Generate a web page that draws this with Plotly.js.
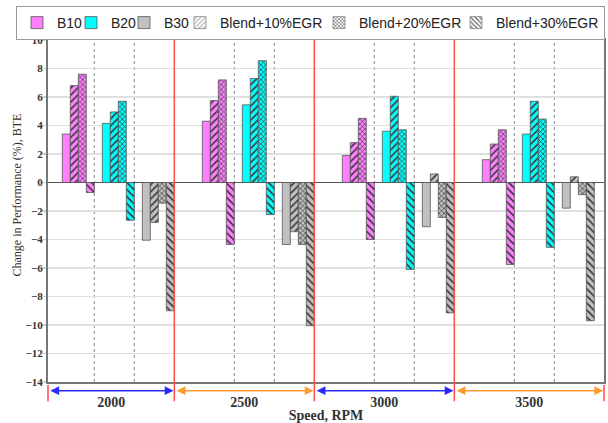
<!DOCTYPE html>
<html><head><meta charset="utf-8">
<script src="https://cdn.plot.ly/plotly-3.0.1.min.js"></script>
<style>html,body{margin:0;padding:0;background:#fff}#chart{width:608px;height:423px}</style>
</head><body><div id="chart"></div>
<script>
// ---- data ----
const speeds = ['2000', '2500', '3000', '3500'];
const fuels = ['B10', 'B20', 'B30'];
const egrLabels = ['Blend+10%EGR', 'Blend+20%EGR', 'Blend+30%EGR'];
// each array: one value per speed (2000, 2500, 3000, 3500)
const B10_blend = [3.4, 4.3, 1.9, 1.6];
const B10_egr10 = [6.8, 5.75, 2.8, 2.7];
const B10_egr20 = [7.6, 7.2, 4.5, 3.7];
const B10_egr30 = [-0.7, -4.35, -4.0, -5.75];
const B20_blend = [4.15, 5.45, 3.6, 3.4];
const B20_egr10 = [4.95, 7.3, 6.05, 5.7];
const B20_egr20 = [5.7, 8.55, 3.7, 4.45];
const B20_egr30 = [-2.65, -2.25, -6.1, -4.55];
const B30_blend = [-4.05, -4.35, -3.1, -1.8];
const B30_egr10 = [-2.8, -3.45, 0.6, 0.4];
const B30_egr20 = [-1.45, -4.35, -2.45, -0.85];
const B30_egr30 = [-9.0, -10.05, -9.15, -9.7];

// ---- styling / layout helpers ----
const fuelSeries = [
  [B10_blend, B10_egr10, B10_egr20, B10_egr30],
  [B20_blend, B20_egr10, B20_egr20, B20_egr30],
  [B30_blend, B30_egr10, B30_egr20, B30_egr30]
];
const fuelColors = ['#ff80ff', '#00ffff', '#c0c0c0'];
const patShapes = ['', '/', 'x', '\\'];
const patSizes = [5, 5, 3.5, 5];
const patSolid = [0.3, 0.3, 0.35, 0.3];
const legendW = [9, 8, 11];
const egrLegendW = [94, 92, 0];
const egrLegendFg = ['#b0b0b0', '#333', '#555'];

const GROUP = 17.5, SUB = 5;
const pos = (s, f, c) => s * GROUP + f * SUB + c;
const xmin = -2.29, xmax = 67.21;

const traces = [];
fuels.forEach((name, f) => {
  const x = [], y = [], shp = [], sz = [], sol = [];
  speeds.forEach((sp, s) => {
    fuelSeries[f].forEach((arr, c) => {
      x.push(pos(s, f, c)); y.push(arr[s]);
      shp.push(patShapes[c]); sz.push(patSizes[c]); sol.push(patSolid[c]);
    });
  });
  traces.push({
    type: 'bar', name: name, x: x, y: y, width: 1,
    legendwidth: legendW[f],
    marker: {color: fuelColors[f], line: {color: '#555', width: 0.8},
      pattern: {shape: shp, size: sz, solidity: sol, fgcolor: '#333', bgcolor: fuelColors[f], fillmode: 'replace'}},
    hoverinfo: 'skip'
  });
});
egrLabels.forEach((name, i) => {
  traces.push({
    type: 'bar', name: name, x: [null], y: [null],
    legendwidth: egrLegendW[i] || undefined,
    marker: {color: '#ffffff', line: {color: '#888', width: 0.8},
      pattern: {shape: patShapes[i + 1], size: i === 1 ? 3 : 4, solidity: 0.35, fgcolor: egrLegendFg[i], bgcolor: '#ffffff'}},
    hoverinfo: 'skip'
  });
});

// separators
const shapes = [];
const segEdges = [xmin];
speeds.forEach((sp, s) => {
  [3.5, 8.5].forEach(o => shapes.push({type: 'line', xref: 'x', yref: 'paper',
    x0: s * GROUP + o, x1: s * GROUP + o, y0: 0, y1: 1,
    line: {color: '#8a8a8a', width: 1, dash: 'dot'}, layer: 'below'}));
  if (s < speeds.length - 1) {
    const b = s * GROUP + 13.5;
    segEdges.push(b);
    shapes.push({type: 'line', xref: 'x', yref: 'paper', x0: b, x1: b, y0: -0.056, y1: 1,
      line: {color: '#ff4a4a', width: 1.5}});
  }
});
segEdges.push(xmax);
[0, 1].forEach(px => shapes.push({type: 'line', xref: 'paper', yref: 'paper', x0: px, x1: px,
  y0: -0.009, y1: -0.056, line: {color: '#ff4a4a', width: 1.5}}));

const serif = 'Liberation Serif, Times New Roman, serif';
const annotations = [];
const arrowColors = ['#2b2bff', '#ff9a2e', '#2b2bff', '#ff9a2e'];
const centers = [];
speeds.forEach((sp, s) => {
  const a = segEdges[s], b = segEdges[s + 1];
  centers.push((a + b) / 2);
  annotations.push({xref: 'x', yref: 'paper', x: b - 0.1, y: -0.0254, axref: 'x', ayref: 'pixel',
    ax: a + 0.1, ay: 0, text: '', showarrow: true, arrowside: 'end+start', arrowhead: 2,
    arrowsize: 1.1, arrowwidth: 1.6, arrowcolor: arrowColors[s], standoff: 0, startstandoff: 0});
});
annotations.push({xref: 'paper', yref: 'paper', x: (16 - 48) / 556, y: (382 - 195.5) / 342,
  xanchor: 'center', yanchor: 'middle', textangle: -90, showarrow: false,
  text: 'Change in Performance (%), BTE', font: {family: serif, size: 12, color: '#333'}});

const layout = {
  width: 608, height: 423,
  margin: {l: 48, r: 4, t: 40, b: 41, autoexpand: false},
  paper_bgcolor: '#fff', plot_bgcolor: '#fff',
  barmode: 'overlay', bargap: 0,
  showlegend: true,
  legend: {orientation: 'h', x: (16 - 48) / 556, xanchor: 'left', y: 1 + (40 - 6) / 342, yanchor: 'top',
    bgcolor: '#fff', bordercolor: '#9a9a9a', borderwidth: 1, traceorder: 'normal',
    font: {family: 'Liberation Sans, Arial, sans-serif', size: 14, color: '#222'}},
  xaxis: {range: [xmin, xmax], tickvals: centers, ticktext: speeds, ticks: '', showgrid: false,
    zeroline: false, showline: true, linecolor: '#777', linewidth: 2, mirror: true,
    ticklabelstandoff: 6,
    tickfont: {family: serif, size: 14, weight: 'bold', color: '#333'},
    title: {text: 'Speed, RPM', font: {family: serif, size: 14, weight: 'bold', color: '#333'}, standoff: 8},
    automargin: false, fixedrange: true},
  yaxis: {range: [-14, 10], tick0: 0, dtick: 2, showgrid: true, gridcolor: '#e0e0e0', gridwidth: 1.5,
    zeroline: true, zerolinecolor: '#555', zerolinewidth: 1.5,
    showline: true, linecolor: '#777', linewidth: 2, mirror: true,
    ticks: 'outside', ticklen: 5, tickcolor: '#cfcfcf', tickwidth: 1.5,
    ticklabelstandoff: -4,
    tickfont: {family: serif, size: 11, weight: 'bold', color: '#333'},
    automargin: false, fixedrange: true},
  shapes: shapes,
  annotations: annotations
};
Plotly.newPlot('chart', traces, layout, {staticPlot: true, displayModeBar: false});
</script></body></html>
